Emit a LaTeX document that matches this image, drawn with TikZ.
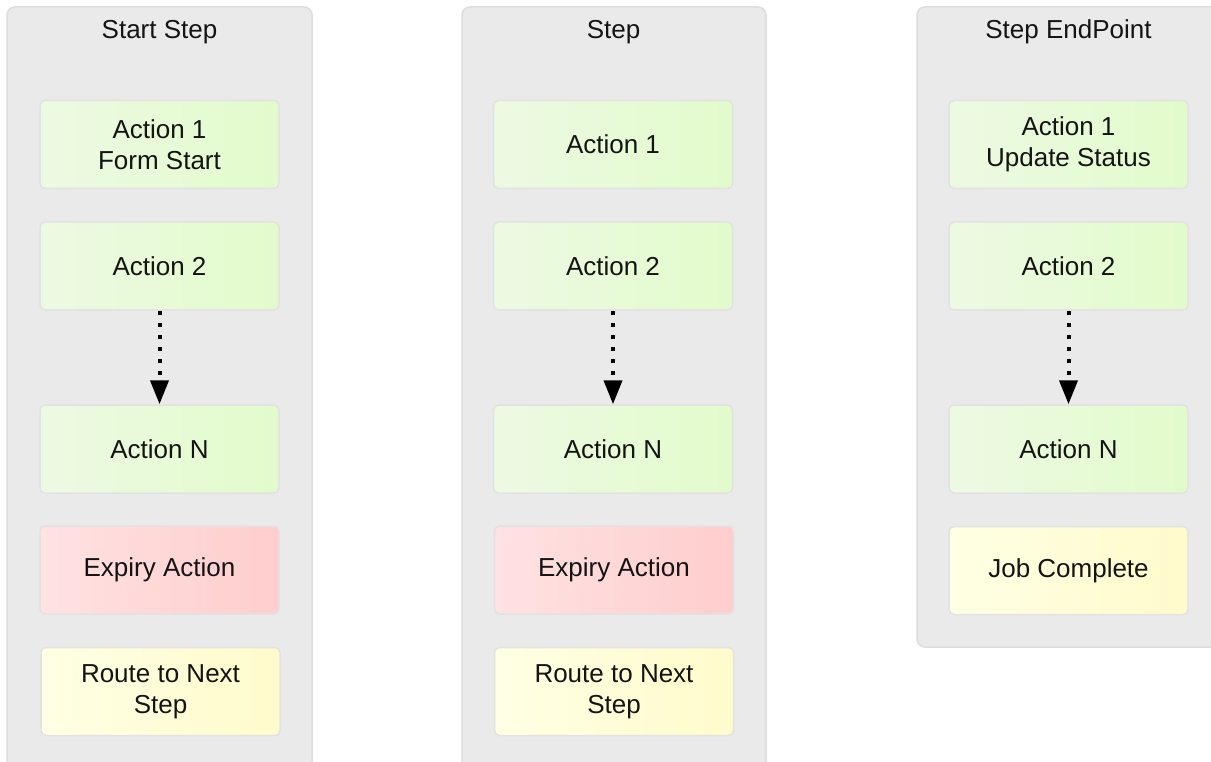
\documentclass[tikz,border=0pt]{standalone}
\usepackage{fontspec}
\setmainfont{Liberation Sans}
\usetikzlibrary{arrows.meta}
\definecolor{lanefill}{HTML}{EAEAEA}
\definecolor{laneline}{HTML}{DDDDDD}
\definecolor{boxline}{HTML}{E2E2E2}
\definecolor{gL}{HTML}{EDFAE3}
\definecolor{gR}{HTML}{E2FBCB}
\definecolor{rL}{HTML}{FFE2E2}
\definecolor{rR}{HTML}{FFCDCD}
\definecolor{yL}{HTML}{FFFFE4}
\definecolor{yR}{HTML}{FFFBCB}
\definecolor{ink}{HTML}{141414}
\tikzset{
  lane/.style={fill=lanefill, draw=laneline, line width=1.5, rounded corners=8},
  lanetitle/.style={anchor=base, text=ink, font=\fontsize{26}{31}\selectfont, inner sep=0},
  actbox/.style={draw=boxline, line width=1.5, rounded corners=5, minimum width=239, minimum height=88,
    inner sep=0, align=center, text=ink, font=\fontsize{26}{31.5}\selectfont},
  greenbox/.style={actbox, left color=gL, right color=gR},
  redbox/.style={actbox, left color=rL, right color=rR},
  yellowbox/.style={actbox, left color=yL, right color=yR},
  dotarrow/.style={line width=4, dash pattern=on 4 off 8, -{Triangle[width=18,length=24]}}
}
\begin{document}
\begin{tikzpicture}[x=1pt,y=-1pt]
\useasboundingbox (0,0) rectangle (1211,762);
\fill[white] (0,0) rectangle (1211,762);
\clip (0,0) rectangle (1211,762);
% lanes
\draw[lane] (7,7) rectangle (312,790);
\draw[lane] (462,7) rectangle (766,790);
\draw[lane] (917,7) rectangle (1222,647);
% titles
\node[lanetitle] (t1) at (159.5,39) {Start Step};
\node[lanetitle] (t2) at (613.5,39) {Step};
\node[lanetitle] (t3) at (1068.5,39) {Step EndPoint};
% column 1
\node[greenbox] (a11) at (159.5,144.5) {Action 1\\Form Start};
\node[greenbox] (a12) at (159.5,266) {Action 2};
\node[greenbox] (a1n) at (159.5,449) {Action N};
\node[redbox] (e1) at (159.5,570) {Expiry Action};
\node[yellowbox] (r1) at (160.5,691.5) {Route to Next\\Step};
% column 2
\node[greenbox] (a21) at (613,144.5) {Action 1};
\node[greenbox] (a22) at (613,266) {Action 2};
\node[greenbox] (a2n) at (613,449) {Action N};
\node[redbox] (e2) at (614,570) {Expiry Action};
\node[yellowbox] (r2) at (614,691.5) {Route to Next\\Step};
% column 3
\node[greenbox] (a31) at (1068.5,144.5) {Action 1\\Update Status};
\node[greenbox] (a32) at (1068.5,266) {Action 2};
\node[greenbox] (a3n) at (1068.5,449) {Action N};
\node[yellowbox] (j3) at (1068.5,570.5) {Job Complete};
% arrows
\draw[dotarrow] (a12.south) -- (a1n.north);
\draw[dotarrow] (a22.south) -- (a2n.north);
\draw[dotarrow] (a32.south) -- (a3n.north);
\end{tikzpicture}
\end{document}
